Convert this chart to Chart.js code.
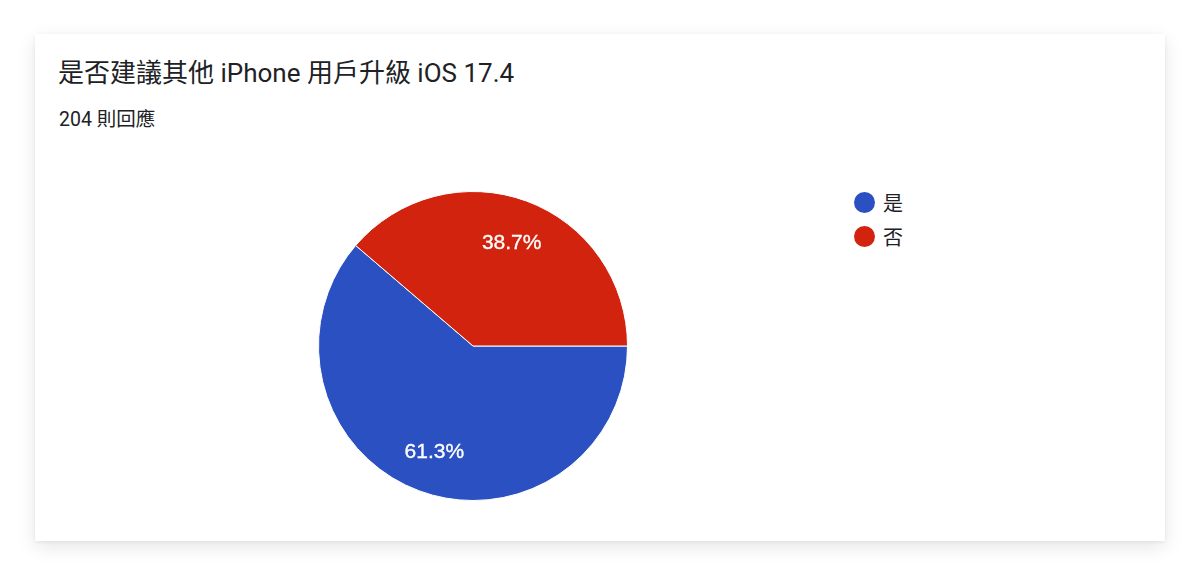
<!DOCTYPE html>
<html>
<head>
<meta charset="utf-8">
<script src="https://cdn.jsdelivr.net/npm/chart.js@4"></script>
<style>
  html, body { margin: 0; padding: 0; background: #ffffff; width: 1200px; height: 575px; overflow: hidden; }
  .card { position: absolute; left: 35px; top: 34px; width: 1130px; height: 507px; background: #fff;
          box-shadow: 0 6px 18px rgba(0,0,0,0.10), 0 1px 4px rgba(0,0,0,0.06); }
  .title { position: absolute; left: 58px; top: 52px; font: 26px Roboto, "Noto Sans CJK TC", sans-serif; color: #202124; white-space: nowrap; }
  .sub { position: absolute; left: 59px; top: 103px; font: 19.5px Roboto, "Noto Sans CJK TC", sans-serif; color: #202124; white-space: nowrap; }
  .chartbox { position: absolute; left: 318px; top: 191px; width: 310px; height: 310px; }
  .legend { position: absolute; left: 854px; top: 185px; font: 20px Roboto, "Noto Sans CJK TC", sans-serif; color: #202124; }
  .legend .item { height: 34px; display: flex; align-items: center; }
  .legend .dot { width: 21px; height: 21px; border-radius: 50%; margin-right: 8px; }
</style>
</head>
<body>
<div class="card"></div>
<div class="title">是否建議其他 iPhone 用戶升級 iOS 17.4</div>
<div class="sub">204 則回應</div>
<div class="chartbox"><canvas id="c" width="310" height="310"></canvas></div>
<div class="legend" id="legend"></div>
<script>
const categories = ['是', '否'];
const responses = [125, 79];
const colors = ['#2b50c2', '#d2230f'];

const legendEl = document.getElementById('legend');
categories.forEach((c, i) => {
  const item = document.createElement('div');
  item.className = 'item';
  const dot = document.createElement('span');
  dot.className = 'dot';
  dot.style.background = colors[i];
  const t = document.createElement('span');
  t.textContent = c;
  item.appendChild(dot); item.appendChild(t);
  legendEl.appendChild(item);
});

const pctLabels = {
  id: 'pctLabels',
  afterDatasetsDraw(chart) {
    const ctx = chart.ctx;
    const data = chart.data.datasets[0].data;
    const total = data.reduce((a, b) => a + b, 0);
    const meta = chart.getDatasetMeta(0);
    ctx.save();
    ctx.fillStyle = '#ffffff';
    ctx.strokeStyle = '#ffffff';
    ctx.lineWidth = 0.35;
    ctx.font = '21px "Liberation Sans", Arial, sans-serif';
    ctx.textAlign = 'center';
    ctx.textBaseline = 'alphabetic';
    meta.data.forEach((arc, i) => {
      const mid = (arc.startAngle + arc.endAngle) / 2;
      const r = arc.outerRadius * 0.722;
      const x = arc.x + Math.cos(mid) * r;
      const y = arc.y + Math.sin(mid) * r + 7.5;
      const txt = (data[i] / total * 100).toFixed(1) + '%';
      ctx.fillText(txt, x, y);
      ctx.strokeText(txt, x, y);
    });
    ctx.restore();
  }
};

new Chart(document.getElementById('c'), {
  type: 'pie',
  data: {
    labels: categories,
    datasets: [{
      data: responses,
      backgroundColor: colors,
      borderColor: '#ffffff',
      borderWidth: 1,
      hoverOffset: 0
    }]
  },
  options: {
    responsive: false,
    animation: false,
    rotation: 90,
    layout: { padding: 0 },
    plugins: { legend: { display: false }, tooltip: { enabled: false } },
    events: []
  },
  plugins: [pctLabels]
});
</script>
</body>
</html>
